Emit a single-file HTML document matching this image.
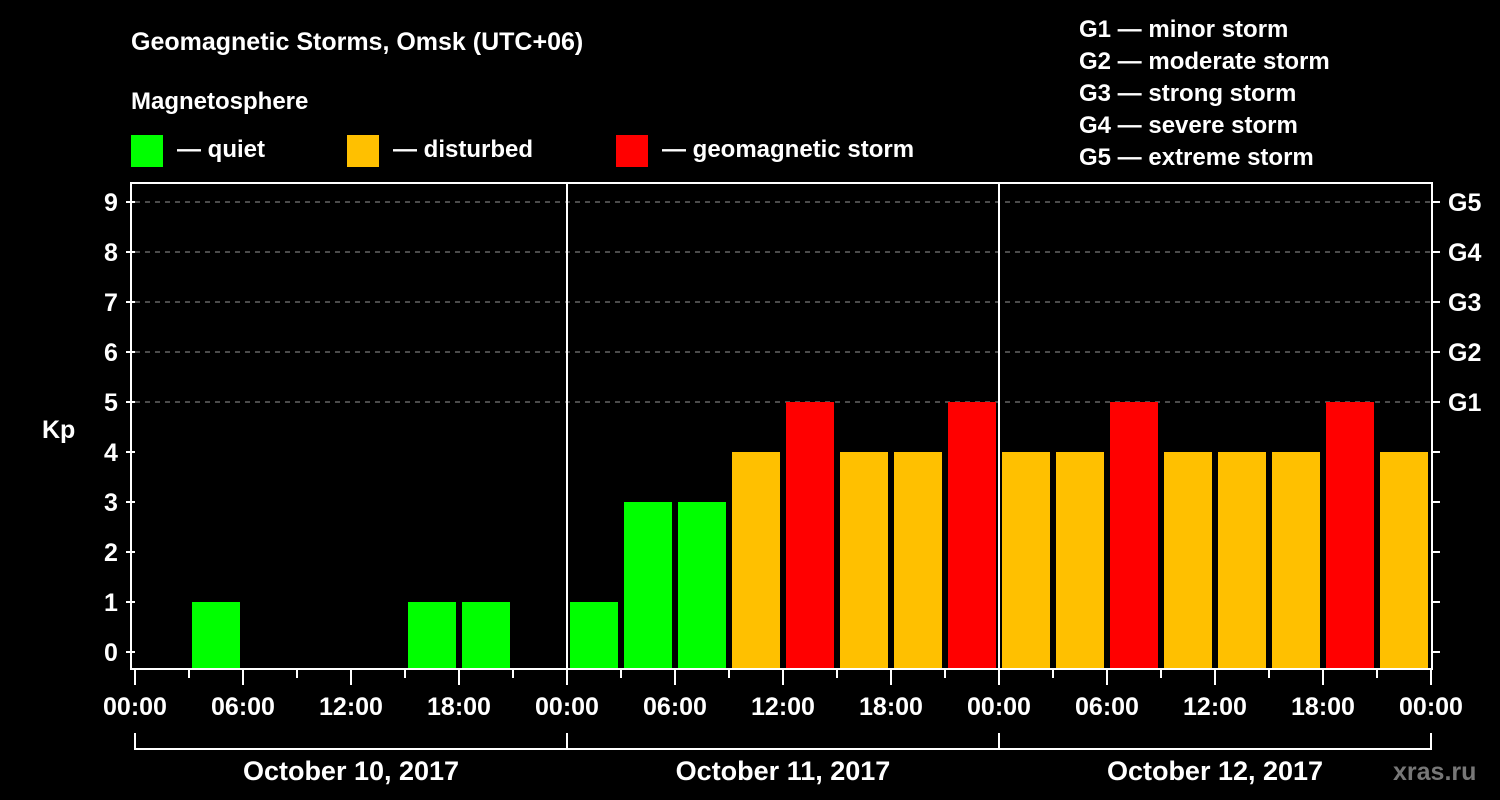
<!DOCTYPE html>
<html><head><meta charset="utf-8"><style>
html,body{margin:0;padding:0;background:#000;}
svg{display:block;font-family:"Liberation Sans",Arial,sans-serif;font-weight:bold;}
</style></head><body>
<svg id="chart" width="1500" height="800" viewBox="0 0 1500 800" xmlns="http://www.w3.org/2000/svg">
<rect width="1500" height="800" fill="#000"/>
<text x="131" y="50" fill="#fff" font-size="25">Geomagnetic Storms, Omsk (UTC+06)</text>
<text x="131" y="109" fill="#fff" font-size="24">Magnetosphere</text>
<g><rect x="131" y="135" width="32" height="32" fill="#00ff00"/><text x="177" y="157" fill="#fff" font-size="24">— quiet</text></g>
<g><rect x="347" y="135" width="32" height="32" fill="#ffc000"/><text x="393" y="157" fill="#fff" font-size="24">— disturbed</text></g>
<g><rect x="616" y="135" width="32" height="32" fill="#ff0000"/><text x="662" y="157" fill="#fff" font-size="24">— geomagnetic storm</text></g>
<g fill="#fff" font-size="24">
<text x="1079" y="37">G1 — minor storm</text>
<text x="1079" y="69">G2 — moderate storm</text>
<text x="1079" y="101">G3 — strong storm</text>
<text x="1079" y="133">G4 — severe storm</text>
<text x="1079" y="165">G5 — extreme storm</text>
</g>
<text x="42" y="438" fill="#fff" font-size="25">Kp</text>
<text x="1393" y="780" fill="#777" font-size="25">xras.ru</text>
<g id="grid"></g><g id="bars"></g><g id="axes"></g>
</svg>
<script>
const days = ["October 10, 2017","October 11, 2017","October 12, 2017"];
const kpValues = [0,1,0,0,0,1,1,0, 1,3,3,4,5,4,4,5, 4,4,5,4,4,4,5,4];
const yTicks = [0,1,2,3,4,5,6,7,8,9];
const gLabels = ["G1","G2","G3","G4","G5"];
const xTickLabels = ["00:00","06:00","12:00","18:00"];

const NS="http://www.w3.org/2000/svg";
const X0=135, DAYW=432, SLOT=DAYW/8, TOP=183, BOT=668, XR=X0+3*DAYW;
const yS = v => 652 - v*50;
const xS = i => X0 + i*SLOT;
function mk(tag, attrs, parent){const e=document.createElementNS(NS,tag);for(const k in attrs)e.setAttribute(k,attrs[k]);parent.appendChild(e);return e;}
const grid=document.getElementById('grid'), bars=document.getElementById('bars'), axes=document.getElementById('axes');

yTicks.forEach(v=>{
  if(v>=5){const l=mk('line',{x1:X0,x2:XR,y1:yS(v),y2:yS(v),stroke:'#999','stroke-width':1,'stroke-dasharray':'5,5'},grid);
  
  }
  const t=mk('line',{x1:X0-9,x2:X0,y1:yS(v),y2:yS(v),stroke:'#fff','stroke-width':2},axes);
  
  
  const tr=mk('line',{x1:XR,x2:XR+9,y1:yS(v),y2:yS(v),stroke:'#fff','stroke-width':2},axes);
  
  
  const lb=mk('text',{x:X0-24,y:yS(v)+9,fill:'#fff','font-size':25,'text-anchor':'middle'},axes);
  lb.textContent=v;
  
  
});
gLabels.forEach((g,i)=>{
  const lb=mk('text',{x:XR+17,y:yS(5+i)+9,fill:'#fff','font-size':25},axes);
  lb.textContent=g;
  
  
});

kpValues.forEach((v,i)=>{
  if(v<=0) return;
  const c = v>=5?'#ff0000':(v>=4?'#ffc000':'#00ff00');
  const r=mk('rect',{x:xS(i)+3,y:yS(v),width:SLOT-6,height:BOT-yS(v),fill:c},bars);
  
  
});

// frame
const fr=mk('rect',{x:X0-4,y:TOP,width:XR-X0+5,height:BOT-TOP+1,fill:'none',stroke:'#fff','stroke-width':2},axes);


for(let d=1;d<3;d++){
  const l=mk('line',{x1:X0+d*DAYW,x2:X0+d*DAYW,y1:TOP,y2:BOT,stroke:'#fff','stroke-width':2},axes);
  
  
}
for(let i=0;i<=24;i++){
  const major=i%2===0;
  const x=xS(i);
  const t=mk('line',{x1:x,x2:x,y1:BOT,y2:major?685:678,stroke:'#fff','stroke-width':2},axes);
  
  
  if(major){
    const lb=mk('text',{x:x,y:715,fill:'#fff','font-size':25,'text-anchor':'middle'},axes);
    lb.textContent=xTickLabels[(i/2)%4];
    
    
  }
}
days.forEach((d,k)=>{
  const xa=X0+k*DAYW, xb=xa+DAYW;
  const p=mk('path',{d:`M${xa},733 V749 H${xb} V733`,fill:'none',stroke:'#fff','stroke-width':2},axes);
  
  
  const lb=mk('text',{x:(xa+xb)/2,y:780,fill:'#fff','font-size':27,'text-anchor':'middle'},axes);
  lb.textContent=d;
  
  
});
</script>
</body></html>
